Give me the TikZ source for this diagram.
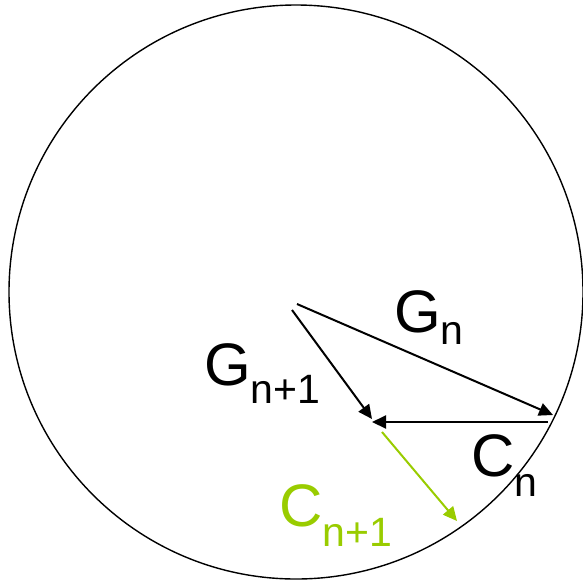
\documentclass[tikz,border=0pt]{standalone}
\usepackage{fontspec}
\setmainfont{Liberation Sans}
\usetikzlibrary{arrows.meta}
\definecolor{lime}{RGB}{153,204,0}
\newcommand{\biglbl}[3]{{\fontsize{60}{64}\selectfont #1\raisebox{#3}{\fontsize{41}{44}\selectfont #2}}}
\begin{document}
\begin{tikzpicture}[x=1pt,y=-1pt,
  vec/.style={line width=2pt,-{Triangle[length=14pt,width=13pt]}},
  lbl/.style={anchor=base west,inner sep=0pt,outer sep=0pt}]
\useasboundingbox (0,0) rectangle (583,582);
\node[draw,circle,line width=1.4pt,minimum size=574pt,inner sep=0pt] (circ) at (296,292) {};
\coordinate (g0) at (297,304);
\coordinate (g1) at (553,415);
\coordinate (h0) at (292,310);
\coordinate (h1) at (372,419);
\coordinate (c0) at (548,422);
\coordinate (c1) at (372,422);
\coordinate (d0) at (382,432);
\coordinate (d1) at (457,521);
\draw[vec] (g0) -- (g1);
\draw[vec] (h0) -- (h1);
\draw[vec] (c0) -- (c1);
\draw[vec,draw=lime,fill=lime] (d0) -- (d1);
\node[lbl] (gn) at (394,332) {\biglbl{G}{n}{-12pt}};
\node[lbl] (gn1) at (204,385) {\biglbl{G}{n+1}{-18pt}};
\node[lbl] (cn) at (471,476) {\biglbl{C}{n}{-20pt}};
\node[lbl,text=lime] (cn1) at (279,526) {\biglbl{C}{n+1}{-20pt}};
\end{tikzpicture}
\end{document}
